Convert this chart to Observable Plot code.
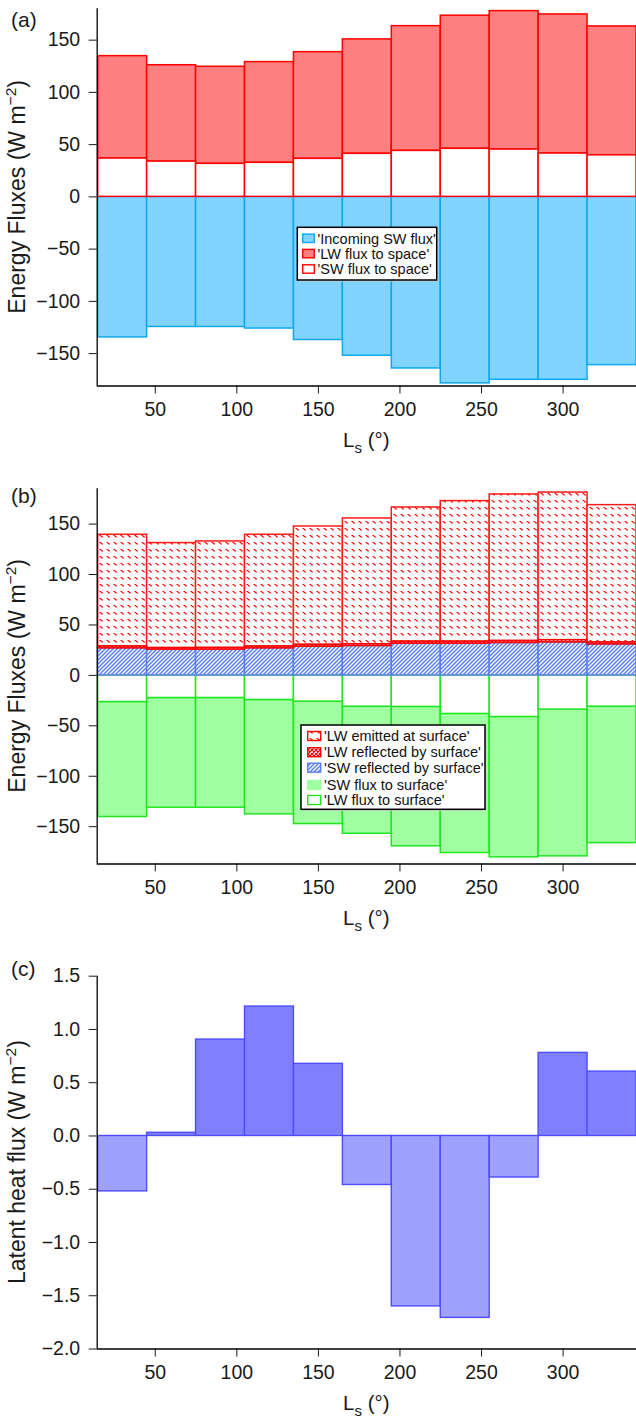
<!DOCTYPE html>
<html><head><meta charset="utf-8">
<script src="https://cdn.jsdelivr.net/npm/d3@7"></script>
<script src="https://cdn.jsdelivr.net/npm/@observablehq/plot@0.6"></script>
<style>body{margin:0;background:#fff} svg{display:block}</style>
</head><body><div id="chart"></div>
<script>
// ---- data ----
const ls = [30, 60, 90, 120, 150, 180, 210, 240, 270, 300, 330];
const binWidth = 30;
const xTicks = [50, 100, 150, 200, 250, 300];

// panel (a)
const incomingSW = [-134.5, -124.5, -124.5, -126, -137, -152, -164.2, -178.5, -175, -175, -161];
const swToSpace  = [36.7, 33.8, 31.6, 32.6, 36.4, 41.2, 44.0, 46.0, 45.3, 41.5, 39.8];
const lwToSpace  = [98.0, 92.2, 92.9, 96.4, 102.1, 109.5, 119.4, 127.4, 132.5, 133.1, 123.3];
const aTicks = [-150, -100, -50, 0, 50, 100, 150];

// panel (b)
const swReflected = [26.8, 25.5, 25.5, 26.8, 28.4, 29.1, 31.4, 31.4, 32.1, 32.7, 30.7];
const lwReflected = [1.9, 1.6, 1.7, 1.8, 1.9, 1.8, 2.0, 2.0, 2.0, 2.2, 1.9];
const lwEmitted   = [110.7, 104.1, 105.6, 110.8, 117.3, 124.7, 133.1, 139.4, 145.3, 146.4, 136.2];
const lwToSurface = [-26.4, -22.4, -22.4, -24.4, -26.0, -31.0, -31.3, -38.2, -41.2, -33.9, -31.0];
const swToSurface = [-114.0, -108.8, -108.8, -113.4, -121.4, -126.0, -138.2, -137.9, -139.2, -145.5, -135.3];
const bTicks = [-150, -100, -50, 0, 50, 100, 150];

// panel (c)
const latentHeat = [-0.52, 0.03, 0.905, 1.215, 0.677, -0.46, -1.60, -1.708, -0.39, 0.78, 0.604];
const cTicks = [-2.0, -1.5, -1.0, -0.5, 0.0, 0.5, 1.0, 1.5];

// ---- layout ----
const FONT = "'Liberation Sans', Arial, Helvetica, sans-serif";
const INK = "#1a1a1a";
const W = 636, ML = 96.7;
const xDomain = [14.4, 345];
const half = binWidth / 2;
const x1 = d => d - half, x2 = d => d + half;

function panel({height, marginTop, marginBottom, yDomain, yTicks, yFormat, marks}) {
  return Plot.plot({
    width: W, height, marginLeft: ML, marginRight: 0, marginTop, marginBottom,
    x: {domain: xDomain},
    y: {domain: yDomain},
    style: {fontFamily: FONT, fontSize: "19.5px", color: INK, background: "white", overflow: "visible"},
    marks: [
      ...marks,
      Plot.axisX({ticks: xTicks, tickSize: 8, tickPadding: 8, label: null}),
      Plot.axisY({ticks: yTicks, tickSize: 8, tickPadding: 9, label: null, tickFormat: yFormat}),
      Plot.ruleX([xDomain[0]], {stroke: "#000", strokeWidth: 1.3}),
      Plot.ruleY([yDomain[0]], {stroke: "#000", strokeWidth: 1.3})
    ]
  });
}

function decorate(svg, {tag, tagY, yLabel, yCenter, axisY}) {
  const s = d3.select(svg);
  s.append("text").attr("x", 11).attr("y", tagY).attr("font-size", 21).attr("text-anchor", "start")
    .attr("font-family", FONT).attr("fill", INK).text(tag);
  const t = s.append("text").attr("transform", `translate(25,${yCenter}) rotate(-90)`)
    .attr("text-anchor", "middle").attr("font-size", 23).attr("font-family", FONT).attr("fill", INK);
  t.append("tspan").text(yLabel + " (W m");
  t.append("tspan").attr("font-size", 15.5).attr("dy", -9).text("−2");
  t.append("tspan").attr("dy", 9).text(")");
  const xl = s.append("text").attr("x", (ML + W) / 2).attr("y", axisY + 61).attr("text-anchor", "middle")
    .attr("font-size", 20.5).attr("font-family", FONT).attr("fill", INK);
  xl.append("tspan").text("L");
  xl.append("tspan").attr("font-size", 15).attr("dy", 6).text("s");
  xl.append("tspan").attr("dy", -6).text(" (°)");
}

function legend(svg, box, sw, tx, rows) {
  const g = d3.select(svg).append("g").attr("text-anchor", "start");
  g.append("rect").attr("x", box.x + 1.5).attr("y", box.y + 1.5).attr("width", box.w).attr("height", box.h)
    .attr("fill", "#ccc");
  g.append("rect").attr("x", box.x).attr("y", box.y).attr("width", box.w).attr("height", box.h)
    .attr("fill", "white").attr("stroke", "#000").attr("stroke-width", 1.5);
  rows.forEach(r => {
    g.append("rect").attr("x", sw.x).attr("y", r.y - sw.h / 2).attr("width", sw.w).attr("height", sw.h)
      .attr("fill", r.fill).attr("stroke", r.stroke).attr("stroke-width", 1.4);
    g.append("text").attr("x", tx).attr("y", r.y).attr("dy", "0.36em").attr("font-size", 14.5)
      .attr("text-anchor", "start").attr("font-family", FONT).attr("fill", "#111").text(r.label);
  });
}

const root = document.getElementById("chart");

// ---- panel (a) ----
const aDomain = [-181, 180];
const svgA = panel({
  height: 470, marginTop: 8.3, marginBottom: 84.5, yDomain: aDomain, yTicks: aTicks,
  marks: [
    Plot.rect(ls, {x1, x2, y1: 0, y2: (d, i) => incomingSW[i], fill: "#80d4ff", stroke: "#10a8f0", strokeWidth: 1.5}),
    Plot.rect(ls, {x1, x2, y1: (d, i) => swToSpace[i], y2: (d, i) => swToSpace[i] + lwToSpace[i], fill: "#ff8080", stroke: "#ff0000", strokeWidth: 1.5}),
    Plot.rect(ls, {x1, x2, y1: 0, y2: (d, i) => swToSpace[i], fill: "white", stroke: "#ff0000", strokeWidth: 1.5})
  ]
});
root.appendChild(svgA);
decorate(svgA, {tag: "(a)", tagY: 26.5, yLabel: "Energy Fluxes", yCenter: 196.9, axisY: 385.5});
legend(svgA, {x: 297.3, y: 227.3, w: 139.4, h: 52.7}, {x: 302.7, w: 11.6, h: 8.4}, 317.5, [
  {y: 238.3, fill: "#80d4ff", stroke: "#10a8f0", label: "'Incoming SW flux'"},
  {y: 253.6, fill: "#ff8080", stroke: "#ff0000", label: "'LW flux to space'"},
  {y: 269.0, fill: "white", stroke: "#ff0000", label: "'SW flux to space'"}
]);

// ---- panel (b) ----
const bDomain = [-187, 185];
const svgB = panel({
  height: 470, marginTop: 18.3, marginBottom: 76.5, yDomain: bDomain, yTicks: bTicks,
  marks: [
    Plot.rect(ls, {x1, x2, y1: (d, i) => lwToSurface[i], y2: (d, i) => lwToSurface[i] + swToSurface[i], fill: "#a0ffa0", stroke: "#22e622", strokeWidth: 1.5}),
    Plot.rect(ls, {x1, x2, y1: 0, y2: (d, i) => lwToSurface[i], fill: "white", stroke: "#22e622", strokeWidth: 1.5}),
    Plot.rect(ls, {x1, x2, y1: 0, y2: (d, i) => swReflected[i], fill: "url(#swHatch)", stroke: "#5a7ff0", strokeWidth: 1.5}),
    Plot.rect(ls, {x1, x2, y1: (d, i) => swReflected[i] + lwReflected[i], y2: (d, i) => swReflected[i] + lwReflected[i] + lwEmitted[i], fill: "url(#lwEmit)", stroke: "#ff1a1a", strokeWidth: 1.5}),
    Plot.rect(ls, {x1, x2, y1: (d, i) => swReflected[i], y2: (d, i) => swReflected[i] + lwReflected[i], fill: "url(#lwCross)", stroke: "#ff0000", strokeWidth: 1.5})
  ]
});
root.appendChild(svgB);
d3.select(svgB).insert("defs", ":first-child").html(`
  <pattern id="lwEmit" width="7" height="7" patternUnits="userSpaceOnUse">
    <rect width="7" height="7" fill="white"/>
    <path d="M1.5,2.5h1l1.5,1.5h1" stroke="#ff0000" stroke-width="1.1" fill="none"/>
  </pattern>
  <pattern id="swHatch" width="4" height="4" patternUnits="userSpaceOnUse">
    <rect width="4" height="4" fill="white"/>
    <path d="M-1,1l2,-2M0,4l4,-4M3,5l2,-2" stroke="#5a7ff0" stroke-width="1.5"/>
  </pattern>
  <pattern id="lwCross" width="4" height="4" patternUnits="userSpaceOnUse">
    <rect width="4" height="4" fill="white"/>
    <path d="M0,0l4,4M4,0l-4,4" stroke="#ff0000" stroke-width="1.2"/>
  </pattern>`);
decorate(svgB, {tag: "(b)", tagY: 33, yLabel: "Energy Fluxes", yCenter: 205.9, axisY: 393.5});
legend(svgB, {x: 301, y: 255, w: 184, h: 84.3}, {x: 307.7, w: 13, h: 9}, 324, [
  {y: 266.0, fill: "url(#lwEmit)", stroke: "#ff0000", label: "'LW emitted at surface'"},
  {y: 282.2, fill: "url(#lwCross)", stroke: "#ff0000", label: "'LW reflected by surface'"},
  {y: 297.7, fill: "url(#swHatch)", stroke: "#5a7ff0", label: "'SW reflected by surface'"},
  {y: 315.0, fill: "#a0ffa0", stroke: "#a0ffa0", label: "'SW flux to surface'"},
  {y: 330.0, fill: "white", stroke: "#22e622", label: "'LW flux to surface'"}
]);

// ---- panel (c) ----
const cDomain = [-2.0, 1.5];
const cRows = ls.map((l, i) => ({ls: l, v: latentHeat[i]}));
const svgC = panel({
  height: 478, marginTop: 35.7, marginBottom: 69.5, yDomain: cDomain, yTicks: cTicks, yFormat: d3.format(".1f"),
  marks: [
    Plot.rect(cRows.filter(d => d.v >= 0), {x1: d => d.ls - half, x2: d => d.ls + half, y1: 0, y2: "v", fill: "#8080ff", stroke: "#4d4dff", strokeWidth: 1.4}),
    Plot.rect(cRows.filter(d => d.v < 0), {x1: d => d.ls - half, x2: d => d.ls + half, y1: 0, y2: "v", fill: "#a0a0ff", stroke: "#4d4dff", strokeWidth: 1.4})
  ]
});
root.appendChild(svgC);
decorate(svgC, {tag: "(c)", tagY: 36, yLabel: "Latent heat flux", yCenter: 222.1, axisY: 408.5});
</script>
</body></html>
